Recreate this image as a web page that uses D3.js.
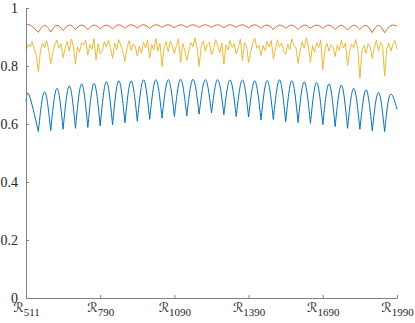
<!DOCTYPE html>
<html>
<head>
<meta charset="utf-8">
<style>
body { margin: 0; background: #fff; }
.axis text { font-family: "Liberation Serif", "DejaVu Serif", serif; font-size: 14px; fill: #262626; }
.axis path, .axis line { stroke: #808080; }
.script { font-family: "DejaVu Sans", sans-serif; }
</style>
</head>
<body>
<svg id="chart" width="415" height="323"></svg>
<script src="https://d3js.org/d3.v7.min.js"></script>
<script>

// tick labels on the x axis (subscripts of R)
var tickLabels = ["511", "790", "1090", "1390", "1690", "1990"];
var yTicks = [0, 0.2, 0.4, 0.6, 0.8, 1];

// blue series: cusp (trough) values and arch tops
var blueTroughs = [0.574, 0.577, 0.582, 0.585, 0.588, 0.593, 0.597, 0.604, 0.610, 0.616,
                   0.620, 0.626, 0.628, 0.634, 0.638, 0.632, 0.626, 0.624, 0.614, 0.616,
                   0.608, 0.605, 0.602, 0.597, 0.591, 0.585, 0.582, 0.577, 0.574];
var bluePeaks = [0.711, 0.723, 0.731, 0.738, 0.740, 0.746, 0.749, 0.748, 0.752, 0.753,
                 0.753, 0.754, 0.754, 0.753, 0.753, 0.752, 0.752, 0.749, 0.750, 0.752,
                 0.749, 0.745, 0.743, 0.738, 0.734, 0.723, 0.718, 0.709];
var blueHead = [0.677, 0.700];
var blueTail = [0.700, 0.651];

// red series
var redTroughs = [0.916, 0.917, 0.922, 0.926, 0.926, 0.928, 0.928, 0.930, 0.931, 0.930,
                  0.933, 0.932, 0.933, 0.933, 0.933, 0.932, 0.933, 0.931, 0.930, 0.926,
                  0.930, 0.926, 0.930, 0.930, 0.926, 0.924, 0.926, 0.915, 0.915];
var redPeaks = [0.940, 0.940, 0.941, 0.941, 0.941, 0.941, 0.942, 0.942, 0.942, 0.942,
                0.942, 0.942, 0.942, 0.942, 0.942, 0.942, 0.942, 0.942, 0.941, 0.941,
                0.941, 0.941, 0.941, 0.941, 0.940, 0.940, 0.940, 0.940];
var redHead = [0.940, 0.941];
var redTail = [0.939, 0.938];

// yellow series, noisy
var yellow = [
  0.851, 0.874, 0.866, 0.884, 0.858, 0.836,
  0.781, 0.852, 0.879, 0.863, 0.887, 0.856,
  0.808, 0.846, 0.872, 0.889, 0.861, 0.877,
  0.829, 0.861, 0.885, 0.851, 0.893, 0.868,
  0.806, 0.866, 0.848, 0.881, 0.872, 0.889,
  0.838, 0.874, 0.858, 0.894, 0.821, 0.876,
  0.842, 0.853, 0.884, 0.866, 0.889, 0.861,
  0.827, 0.879, 0.857, 0.891, 0.872, 0.848,
  0.816, 0.863, 0.887, 0.854, 0.876, 0.869,
  0.834, 0.868, 0.845, 0.882, 0.862, 0.889,
  0.828, 0.874, 0.856, 0.895, 0.851, 0.879,
  0.797, 0.861, 0.884, 0.849, 0.886, 0.868,
  0.843, 0.871, 0.893, 0.812, 0.878, 0.854,
  0.819, 0.852, 0.881, 0.866, 0.897, 0.862,
  0.799, 0.868, 0.886, 0.851, 0.874, 0.882,
  0.838, 0.859, 0.891, 0.871, 0.846, 0.879,
  0.806, 0.873, 0.855, 0.888, 0.864, 0.877,
  0.841, 0.863, 0.893, 0.818, 0.881, 0.868,
  0.812, 0.849, 0.876, 0.896, 0.861, 0.872,
  0.836, 0.871, 0.853, 0.884, 0.866, 0.888,
  0.824, 0.858, 0.891, 0.867, 0.879, 0.851,
  0.839, 0.876, 0.857, 0.894, 0.871, 0.863,
  0.809, 0.853, 0.884, 0.861, 0.897, 0.867,
  0.812, 0.871, 0.847, 0.881, 0.863, 0.889,
  0.788, 0.856, 0.878, 0.851, 0.874, 0.867,
  0.833, 0.872, 0.854, 0.888, 0.862, 0.879,
  0.801, 0.848, 0.876, 0.863, 0.891, 0.856,
  0.757, 0.853, 0.871, 0.844, 0.877, 0.866,
  0.826, 0.863, 0.889, 0.852, 0.882, 0.871,
  0.765, 0.857, 0.879, 0.851, 0.874, 0.888,
  0.858
];

var svg = d3.select("#chart");
var plotLeft = 26, plotRight = 397, plotTop = 8, plotBottom = 298;

var x = d3.scaleLinear().domain([0, 180]).range([plotLeft, plotRight]);
var y = d3.scaleLinear().domain([0, 1]).range([plotBottom, plotTop]);

// build arches: cusp k sits at sample 6 + 6k
function arches(head, troughs, peaks, tail, headAt, tailAt) {
  var out = [];
  out.push([[0, head[0]], [headAt, head[1]], [6, troughs[0]]]);
  for (var j = 1; j < troughs.length; j++) {
    out.push([[6 * j, troughs[j - 1]], [6 * j + 3, peaks[j - 1]], [6 * j + 6, troughs[j]]]);
  }
  var last = 6 * troughs.length;
  out.push([[last, troughs[troughs.length - 1]], [tailAt, tail[0]], [180, tail[1]]]);
  return out;
}

var archLine = d3.line()
  .x(function(d) { return x(d[0]); })
  .y(function(d) { return y(d[1]); })
  .curve(d3.curveNatural);

function drawArches(data, color, w) {
  svg.append("g").selectAll("path")
    .data(data)
    .enter().append("path")
    .attr("d", archLine)
    .attr("fill", "none")
    .attr("stroke", color)
    .attr("stroke-width", w);
}

drawArches(arches(blueHead, blueTroughs, bluePeaks, blueTail, 1.5, 176.6), "#0072BD", 1);
drawArches(arches(redHead, redTroughs, redPeaks, redTail, 2, 177), "#D95319", 0.9);

var yLine = d3.line()
  .x(function(d, i) { return x(i); })
  .y(function(d) { return y(d); });

svg.append("path")
  .datum(yellow)
  .attr("d", yLine)
  .attr("fill", "none")
  .attr("stroke", "#EDB120")
  .attr("stroke-width", 0.9);

// axes
var xAxis = d3.axisBottom(x)
  .tickValues([0, 36, 72, 108, 144, 180])
  .tickSizeInner(-3).tickSizeOuter(0)
  .tickFormat("");
var gx = svg.append("g").attr("class", "axis")
  .attr("transform", "translate(0," + plotBottom + ")")
  .call(xAxis);

gx.selectAll(".tick").each(function(d, i) {
  var t = d3.select(this).append("text")
    .attr("y", 14)
    .attr("text-anchor", "middle")
    .attr("fill", "#262626");
  t.append("tspan").attr("class", "script").style("font-size", "13px").text("\u211B");
  t.append("tspan").attr("dy", 3.5).style("font-size", "11px").text(tickLabels[i]);
});

var yAxis = d3.axisLeft(y)
  .tickValues(yTicks)
  .tickSizeInner(-3).tickSizeOuter(0)
  .tickPadding(8)
  .tickFormat(d3.format("~g"));
svg.append("g").attr("class", "axis")
  .attr("transform", "translate(" + plotLeft + ",0)")
  .call(yAxis);

</script>
</body>
</html>
